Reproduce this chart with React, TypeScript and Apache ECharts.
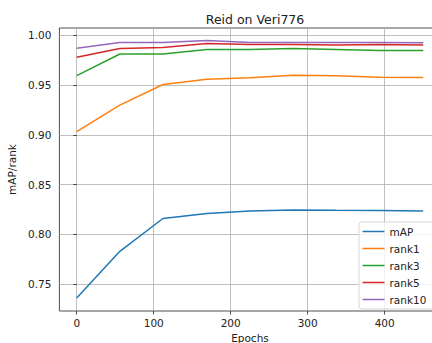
import React, { useEffect, useRef } from "react";
import * as echarts from "echarts";

const epochs = [0, 56, 112, 169, 225, 281, 337, 394, 450];
const mAP = [0.736, 0.783, 0.816, 0.821, 0.8235, 0.8245, 0.8242, 0.824, 0.8235];
const rank1 = [0.9033, 0.93, 0.9507, 0.956, 0.9575, 0.96, 0.9595, 0.958, 0.9577];
const rank3 = [0.9597, 0.9814, 0.9814, 0.9858, 0.9858, 0.9868, 0.986, 0.985, 0.9848];
const rank5 = [0.978, 0.9868, 0.988, 0.992, 0.991, 0.991, 0.9905, 0.991, 0.9903];
const rank10 = [0.9871, 0.993, 0.993, 0.995, 0.993, 0.993, 0.993, 0.993, 0.9927];
const xTicks = [0, 100, 200, 300, 400];
const yTicks = [0.75, 0.8, 0.85, 0.9, 0.95, 1.0];

const seriesDefs = [
  { name: "mAP", data: mAP, color: "#1f77b4" },
  { name: "rank1", data: rank1, color: "#ff7f0e" },
  { name: "rank3", data: rank3, color: "#2ca02c" },
  { name: "rank5", data: rank5, color: "#d62728" },
  { name: "rank10", data: rank10, color: "#9467bd" },
];

const FONT = "DejaVu Sans";

export default function App() {
  const ref = useRef<HTMLDivElement>(null);
  useEffect(() => {
    if (!ref.current) return;
    const chart = echarts.init(ref.current, null, { renderer: "svg" });
    chart.setOption({
      animation: false,
      backgroundColor: "#fff",
      textStyle: { fontFamily: FONT },
      title: {
        text: "Reid on Veri776",
        left: 250,
        top: 8,
        textAlign: "center",
        textStyle: { fontFamily: FONT, fontSize: 12.5, fontWeight: "normal", color: "#222" },
      },
      grid: {
        left: 59.4,
        width: 381.1,
        top: 28,
        height: 283,
        show: true,
        borderColor: "#222",
        borderWidth: 0.8,
        containLabel: false,
        outerBoundsMode: "none",
      },
      legend: {
        orient: "vertical",
        left: 359,
        top: 222,
        itemWidth: 22,
        itemHeight: 10,
        itemGap: 6,
        padding: [4, 30, 4, 3.5],
        backgroundColor: "rgba(255,255,255,0.8)",
        borderColor: "#d5d5d5",
        borderWidth: 1,
        borderRadius: 3,
        icon: "path://M0,0 H22 V1.5 H0 Z",
        textStyle: { fontFamily: FONT, fontSize: 10.5, color: "#222" },
        data: seriesDefs.map((s) => s.name),
      },
      xAxis: {
        type: "value",
        min: -22.5,
        max: 472.5,
        name: "Epochs",
        nameLocation: "middle",
        nameGap: 20,
        nameTextStyle: { fontFamily: FONT, fontSize: 10.5, color: "#222" },
        axisLine: { show: false },
        axisTick: { show: true, length: 3.5, customValues: xTicks, lineStyle: { color: "#222", width: 0.8 } },
        axisLabel: { customValues: xTicks, margin: 6, fontFamily: FONT, fontSize: 10.5, color: "#222" },
        splitLine: { show: true, lineStyle: { color: "#b0b0b0", width: 0.8 } },
      },
      yAxis: {
        type: "value",
        min: 0.723,
        max: 1.0075,
        name: "mAP/rank",
        nameLocation: "middle",
        nameRotate: 90,
        nameGap: 30,
        nameTextStyle: { fontFamily: FONT, fontSize: 10.5, color: "#222" },
        axisLine: { show: false },
        axisTick: { show: true, length: 3.5, customValues: yTicks, lineStyle: { color: "#222", width: 0.8 } },
        axisLabel: {
          customValues: yTicks,
          margin: 8,
          fontFamily: FONT,
          fontSize: 10.5,
          color: "#222",
          formatter: (v: number) => v.toFixed(2),
        },
        splitLine: { show: true, lineStyle: { color: "#b0b0b0", width: 0.8 } },
      },
      series: seriesDefs.map((s) => ({
        name: s.name,
        type: "line",
        symbol: "none",
        data: epochs.map((e, i) => [e, s.data[i]]),
        lineStyle: { color: s.color, width: 1.5 },
        itemStyle: { color: s.color },
      })),
    });
    return () => chart.dispose();
  }, []);
  return (
    <div
      ref={ref}
      style={{ position: "absolute", left: 0, top: 0, width: 432, height: 343 }}
    />
  );
}
